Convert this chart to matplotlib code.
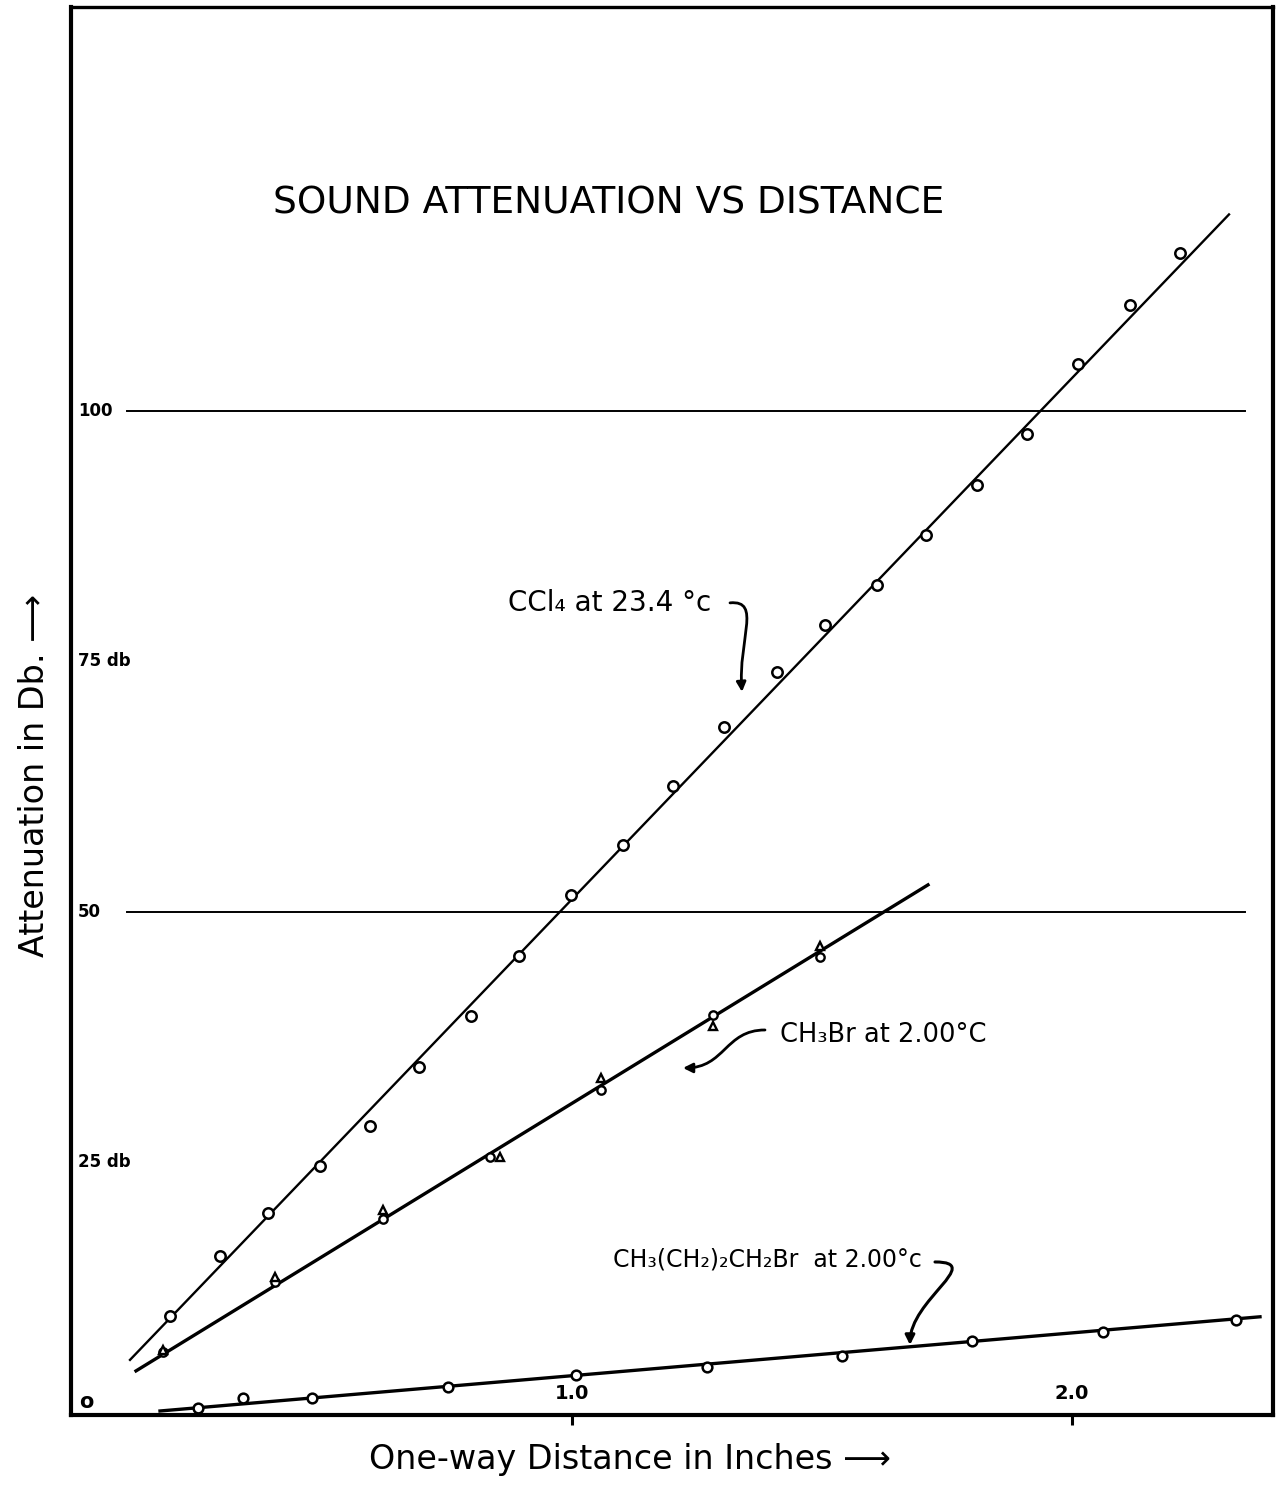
import matplotlib
matplotlib.use("Agg")
import matplotlib.pyplot as plt
from matplotlib.patches import FancyArrowPatch
from matplotlib.path import Path

plt.rcParams['font.family'] = ['DejaVu Sans']

# ---- data ----
ccl4_x = [0.196, 0.296, 0.392, 0.496, 0.596, 0.694, 0.798, 0.894, 0.998, 1.102,
          1.202, 1.304, 1.410, 1.506, 1.610, 1.708, 1.810, 1.910, 2.012, 2.116, 2.216]
ccl4_y = [9.7, 15.7, 20.0, 24.6, 28.6, 34.5, 39.6, 45.6, 51.7, 56.7,
          62.6, 68.5, 73.9, 78.6, 82.6, 87.6, 92.6, 97.7, 104.7, 110.6, 115.8]
ccl4_fit_x = [0.116, 2.314]
ccl4_fit_y = [5.3, 119.6]

ch3br_circ_x = [0.182, 0.406, 0.622, 0.836, 1.058, 1.282, 1.496]
ch3br_circ_y = [6.1, 13.1, 19.4, 25.5, 32.2, 39.7, 45.5]
ch3br_tri_x = [0.182, 0.406, 0.622, 0.856, 1.058, 1.282, 1.496]
ch3br_tri_y = [6.3, 13.6, 20.3, 25.5, 33.4, 38.6, 46.6]
ch3br_fit_x = [0.128, 1.712]
ch3br_fit_y = [4.2, 52.7]

bubr_x = [0.252, 0.342, 0.480, 0.752, 1.008, 1.270, 1.540, 1.800, 2.062, 2.328]
bubr_y = [0.5, 1.5, 1.5, 2.6, 3.8, 4.6, 5.7, 7.2, 8.1, 9.3]
bubr_fit_x = [0.176, 2.376]
bubr_fit_y = [0.2, 9.6]

grid_levels = [50, 100]
ytick_labels = {100: "100", 75: "75 db", 50: "50", 25: "25 db"}
xtick_vals = [1.0, 2.0]
xtick_labels = ["1.0", "2.0"]

# ---- figure ----
fig = plt.figure(figsize=(12.77, 14.86), dpi=100)
ax = fig.add_axes([71/1277, 1-1415/1486, (1273-71)/1277, (1415-7)/1486])
ax.set_xlim(-0.002, 2.402)
ax.set_ylim(-0.2, 140.3)

for s in ['left', 'bottom', 'right']:
    ax.spines[s].set_linewidth(3.0)
ax.spines['top'].set_linewidth(2.4)

ax.set_yticks([])
ax.set_xticks(xtick_vals)
ax.set_xticklabels([])
ax.tick_params(axis='x', direction='out', length=7, width=2.2)

for g in grid_levels:
    ax.plot([0.11, 2.346], [g, g], color='black', lw=1.4, zorder=1)

mk = dict(marker='o', markersize=7.5, markerfacecolor='white',
          markeredgecolor='black', markeredgewidth=1.8, linestyle='none', zorder=3)

ax.plot(ccl4_fit_x, ccl4_fit_y, color='black', lw=1.7, zorder=2)
ax.plot(ccl4_x, ccl4_y, **mk)

ax.plot(ch3br_fit_x, ch3br_fit_y, color='black', lw=2.4, zorder=2)
ax.plot(ch3br_circ_x, ch3br_circ_y, marker='o', markersize=6, markerfacecolor='white',
        markeredgecolor='black', markeredgewidth=1.7, linestyle='none', zorder=3)
ax.plot(ch3br_tri_x, ch3br_tri_y, marker='^', markersize=6, markerfacecolor='white',
        markeredgecolor='black', markeredgewidth=1.7, linestyle='none', zorder=4)

ax.plot(bubr_fit_x, bubr_fit_y, color='black', lw=2.4, zorder=2)
ax.plot(bubr_x, bubr_y, marker='o', markersize=7, markerfacecolor='white',
        markeredgecolor='black', markeredgewidth=1.8, linestyle='none', zorder=3)

# y labels inside the axes
for v, lab in ytick_labels.items():
    ax.text(0.012, v, lab, ha='left', va='center', fontsize=12, fontweight='bold')
ax.text(0.028, 1.1, "o", ha='center', va='center', fontsize=15, fontweight='bold')
for v, lab in zip(xtick_vals, xtick_labels):
    ax.text(v, 1.9, lab, ha='center', va='center', fontsize=14, fontweight='bold')


def curved_arrow(pts, lw=2.0):
    path = Path(pts, [Path.MOVETO, Path.CURVE4, Path.CURVE4, Path.CURVE4])
    ax.add_patch(FancyArrowPatch(path=path, arrowstyle='-|>', mutation_scale=14,
                                 lw=lw, color='black', transform=ax.transData))


# series annotations
ax.text(0.872, 80.8, "CCl\u2084 at 23.4 \u00b0c", ha='left', va='center', fontsize=20)
curved_arrow([(1.316, 80.84), (1.38, 81.14), (1.332, 77.15), (1.34, 71.96)])

ax.text(1.416, 37.7, "CH\u2083Br at 2.00\u00b0C", ha='left', va='center', fontsize=18.5)
curved_arrow([(1.386, 38.22), (1.306, 38.22), (1.306, 34.43), (1.222, 34.43)])

ax.text(1.082, 15.3, "CH\u2083(CH\u2082)\u2082CH\u2082Br  at 2.00\u00b0c", ha='left', va='center',
        fontsize=17)
curved_arrow([(1.726, 15.07), (1.826, 15.07), (1.676, 11.28), (1.676, 6.79)], lw=2.2)

# titles
fig.text(609/1277, 1-203/1486, "SOUND ATTENUATION VS DISTANCE", ha='center', va='center',
         fontsize=27)
fig.text(630/1277, 1-1460/1486, "One-way Distance in Inches \u27f6", ha='center', va='center',
         fontsize=24)
fig.text(35/1277, 1-775/1486, "Attenuation in Db. \u27f6", ha='center', va='center',
         fontsize=24, rotation=90)

fig.savefig("out.png", dpi=100, facecolor='white')
